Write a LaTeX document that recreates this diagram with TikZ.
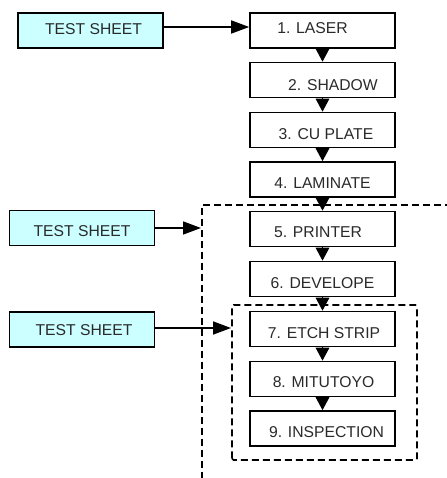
\documentclass[tikz,border=0pt]{standalone}
\usepackage{fontspec}
\setmainfont{Liberation Sans}
\usetikzlibrary{arrows.meta}
\definecolor{sheetcyan}{HTML}{CCFFFF}
\definecolor{inkgray}{HTML}{2A2A2A}
% label with its own horizontal/vertical offset (dy measured downwards)
\newcommand\lbl[3]{\makebox[0pt]{\hspace*{#1}\hspace*{#1}\raisebox{\dimexpr -#2 - 5.62pt\relax}[0pt][0pt]{#3}}}
\begin{document}
\begin{tikzpicture}[x=1pt,y=1pt,
  stepbox/.style={draw=black,line width=1.6pt,fill=white,minimum width=145pt,minimum height=35pt,inner sep=0pt,
    text=inkgray,font=\fontsize{15.7}{18}\selectfont},
  sheet/.style={stepbox,fill=sheetcyan},
  flow/.style={line width=1.6pt,-{Triangle[length=13pt,width=13.5pt]}},
  feed/.style={line width=1.6pt,-{Triangle[length=18pt,width=13pt]}},
  zone/.style={line width=1.6pt,dash pattern=on 7pt off 4pt}]
\useasboundingbox (0,0) rectangle (446,478);

% process steps
\node[stepbox] (b1) at (322.5,447.5) {\lbl{-10pt}{-2.5pt}{1. LASER}};
\node[stepbox] (b2) at (322.5,398)   {\lbl{10.5pt}{5pt}{2. SHADOW}};
\node[stepbox] (b3) at (322.5,348)   {\lbl{3.5pt}{3.8pt}{3. CU PLATE}};
\node[stepbox] (b4) at (322.5,298.5) {\lbl{0pt}{3.5pt}{4. LAMINATE}};
\node[stepbox] (b5) at (322.5,249)   {\lbl{-4.5pt}{3pt}{5. PRINTER}};
\node[stepbox] (b6) at (322.5,199)   {\lbl{0pt}{4pt}{6. DEVELOPE}};
\node[stepbox] (b7) at (322.5,149)   {\lbl{1.5pt}{3.7pt}{7. ETCH STRIP}};
\node[stepbox] (b8) at (322.5,99)    {\lbl{1pt}{3.3pt}{8. MITUTOYO}};
\node[stepbox] (b9) at (322.5,49.5)  {\lbl{4pt}{3.5pt}{9. INSPECTION}};

% test sheets
\node[sheet] (ts1) at (90.5,447.5) {\lbl{3pt}{-1.7pt}{TEST SHEET}};
\node[sheet] (ts2) at (82,250)     {\lbl{0pt}{2.5pt}{TEST SHEET}};
\node[sheet] (ts3) at (82,148.5)   {\lbl{2pt}{0.5pt}{TEST SHEET}};

% dashed zones
\draw[zone] (452,273) -- (202,273) -- (202,-6);
\draw[zone,rounded corners=1.5pt] (232,18) rectangle (417,173);
\coordinate (gate2) at (201,250);
\coordinate (gate3) at (231,150);

% flow between steps
\foreach \a/\b in {b1/b2,b2/b3,b3/b4,b4/b5,b5/b6,b6/b7,b7/b8,b8/b9}
  \draw[flow] (\a.south) -- (\b.north);

% test sheet feeds
\draw[feed] ([yshift=3.5pt]ts1.east) -- ([yshift=3.5pt]b1.west);
\draw[feed] (ts2.east) -- (gate2);
\draw[feed] ([yshift=1.5pt]ts3.east) -- (gate3);
\end{tikzpicture}
\end{document}
